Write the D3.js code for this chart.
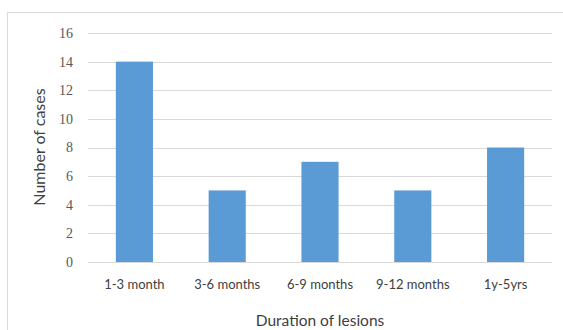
<!DOCTYPE html>
<html>
<head>
<meta charset="utf-8">
<script src="https://cdn.jsdelivr.net/npm/d3@7"></script>
<style>
  html, body { margin: 0; padding: 0; background: #fff; }
  svg { display: block; }
</style>
</head>
<body>
<svg id="chart" width="563" height="330"></svg>
<script>
// Duration of lesions vs number of cases
const categories = ["1-3 month", "3-6 months", "6-9 months", "9-12 months", "1y-5yrs"];
const cases = [14, 5, 7, 5, 8];
const yTicks = [0, 2, 4, 6, 8, 10, 12, 14, 16];

const svg = d3.select("#chart");
const W = 563, H = 330;
const plot = { left: 88, right: 552, top: 33, bottom: 262 };

// chart-area frame (top and left edges visible)
svg.append("path")
  .attr("d", `M7.5,${H} V12.5 H${W}`)
  .attr("fill", "none")
  .attr("stroke", "#d9d9d9")
  .attr("stroke-width", 1);

const x = d3.scaleBand()
  .domain(categories)
  .range([plot.left, plot.right])
  .paddingInner(0.6)
  .paddingOuter(0.3);

const y = d3.scaleLinear()
  .domain([0, 16])
  .range([plot.bottom, plot.top]);

// horizontal gridlines
svg.append("g")
  .selectAll("line")
  .data(yTicks)
  .join("line")
  .attr("x1", plot.left)
  .attr("x2", plot.right)
  .attr("y1", d => Math.round(y(d)) + 0.5)
  .attr("y2", d => Math.round(y(d)) + 0.5)
  .attr("stroke", "#d9d9d9")
  .attr("stroke-width", 1.2);

// y axis labels
const yAxis = d3.axisLeft(y).tickValues(yTicks).tickSize(0).tickPadding(0);
const gy = svg.append("g")
  .attr("transform", `translate(73,0)`)
  .call(yAxis);
gy.select(".domain").remove();
gy.selectAll("text")
  .attr("font-family", "'Liberation Serif', 'DejaVu Serif', serif")
  .attr("font-size", 14)
  .attr("fill", "#595959");

// bars
svg.append("g")
  .selectAll("rect")
  .data(cases)
  .join("rect")
  .attr("x", (d, i) => x(categories[i]))
  .attr("width", x.bandwidth())
  .attr("y", d => y(d))
  .attr("height", d => y(0) - y(d))
  .attr("fill", "#5b9bd5");

// x axis labels
const xAxis = d3.axisBottom(x).tickSize(0).tickPadding(0);
const gx = svg.append("g")
  .attr("transform", `translate(0,280)`)
  .call(xAxis);
gx.select(".domain").remove();
gx.selectAll("text")
  .attr("font-family", "Lato, 'Open Sans', sans-serif")
  .attr("font-size", 13)
  .attr("fill", "#404040");

// axis titles
svg.append("text")
  .attr("x", 320)
  .attr("y", 326)
  .attr("text-anchor", "middle")
  .attr("font-family", "Lato, 'Open Sans', sans-serif")
  .attr("font-size", 15.5)
  .attr("fill", "#404040")
  .text("Duration of lesions");

svg.append("text")
  .attr("transform", "translate(45,147) rotate(-90)")
  .attr("text-anchor", "middle")
  .attr("font-family", "Lato, 'Open Sans', sans-serif")
  .attr("font-size", 16)
  .attr("fill", "#404040")
  .text("Number of cases");
</script>
</body>
</html>
